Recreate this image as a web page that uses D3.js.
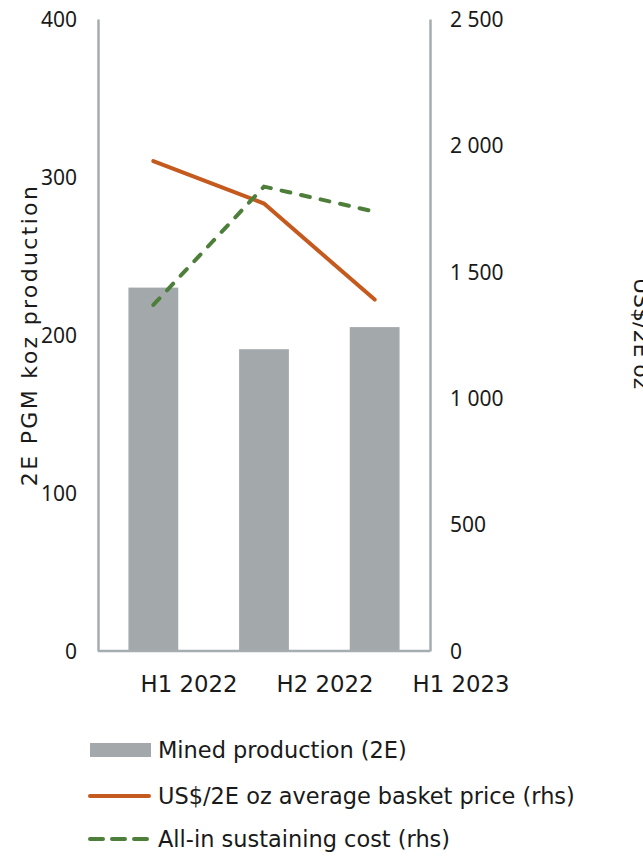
<!DOCTYPE html>
<html><head><meta charset="utf-8">
<script src="https://cdn.jsdelivr.net/npm/d3@7/dist/d3.min.js"></script>
<style>body{margin:0;background:#fff}svg{display:block}text{fill:#1a1a1a}</style>
</head><body><svg id="c" width="643" height="856"></svg>
<script>
const categories = ["H1 2022", "H2 2022", "H1 2023"];
const minedProduction = [230, 191, 205];
const basketPrice = [1938, 1770, 1390];
const aisc = [1369, 1837, 1738];
const leftTicks = [0, 100, 200, 300, 400];
const rightTicks = [0, 500, 1000, 1500, 2000, 2500];
const legendLabels = ["Mined production (2E)", "US$/2E oz average basket price (rhs)", "All-in sustaining cost (rhs)"];

const svg = d3.select("#c");
const L = 98, R = 430, T = 19, B = 651;
const x = d3.scaleBand().domain(categories).range([L, R]).paddingInner(0.55).paddingOuter(0.275);
const xLab = d3.scaleBand().domain(categories).range([121, 529]);
const yL = d3.scaleLinear().domain([0, 400]).range([B, T]);
const yR = d3.scaleLinear().domain([0, 2500]).range([B, T]);
const fmt = d => d3.format(",")(d).replace(/,/g, " ");
const gray = "#a3a9ab", axisCol = "#a6adb0", orange = "#c55a1e", green = "#4e7f3a";
const tickFont = "'Noto Sans', sans-serif", wideFont = "'DejaVu Sans', sans-serif";

function fit(sel, target, base) {
  sel.style("font-size", base + "px");
  const w = sel.node().getComputedTextLength();
  return base * target / w;
}
function spread(sel, target, size) {
  sel.style("font-size", size + "px").style("letter-spacing", "0px");
  const w = sel.node().getComputedTextLength();
  const n = sel.text().length;
  sel.style("letter-spacing", ((target - w) / (n - 1)) + "px");
}

// bars
svg.selectAll("rect.bar").data(minedProduction).join("rect").attr("class","bar")
  .attr("x", (d,i) => x(categories[i])).attr("width", x.bandwidth())
  .attr("y", d => yL(d)).attr("height", d => B - yL(d)).attr("fill", gray);

// axes
const gl = svg.append("g").attr("transform", `translate(${L},0)`).call(d3.axisLeft(yL).tickValues(leftTicks).tickSize(0).tickPadding(21));
const gr = svg.append("g").attr("transform", `translate(${R},0)`).call(d3.axisRight(yR).tickValues(rightTicks).tickFormat(fmt).tickSize(0).tickPadding(20));
[gl, gr].forEach(g => {
  g.select(".domain").attr("stroke", axisCol).attr("stroke-width", 2.5);
  g.selectAll("text").style("font-size", "21px").style("font-family", tickFont).attr("fill", "#1a1a1a").attr("dy", "0.35em");
});
svg.append("line").attr("x1", L).attr("x2", R).attr("y1", B).attr("y2", B).attr("stroke", axisCol).attr("stroke-width", 2.5);
const gx = svg.append("g").attr("transform", `translate(0,${B})`).call(d3.axisBottom(xLab).tickSize(0).tickPadding(25));
gx.select(".domain").remove();
const xt = gx.selectAll("text").style("font-family", wideFont).attr("fill", "#1a1a1a");
const xs = fit(d3.select(xt.nodes()[0]), 97, 22);
xt.style("font-size", xs + "px");

// lines
const cx = c => x(c) + x.bandwidth() / 2;
const line = d3.line().x((d,i) => cx(categories[i])).y(d => yR(d));
svg.append("path").datum(basketPrice).attr("d", line).attr("fill","none").attr("stroke", orange).attr("stroke-width", 4).attr("stroke-linecap","round");
svg.append("path").datum(aisc).attr("d", line).attr("fill","none").attr("stroke", green).attr("stroke-width", 4).attr("stroke-dasharray","9 11").attr("stroke-linecap","round");

// axis titles
const lt = svg.append("text").attr("transform", `translate(37,335) rotate(-90)`).attr("text-anchor","middle").style("font-family", wideFont).text("2E PGM koz production");
spread(lt, 300, 22);
const rt = svg.append("text").attr("transform", `translate(634,278) rotate(90)`).attr("text-anchor","start").style("font-family", wideFont).style("font-size", "22px").text("US$/2E oz");

// legend
const lg = svg.append("g");
const ly = [750, 796, 839];
lg.append("rect").attr("x", 90).attr("y", ly[0] - 7).attr("width", 61).attr("height", 14).attr("fill", gray);
lg.append("line").attr("x1", 90).attr("x2", 149).attr("y1", ly[1]).attr("y2", ly[1]).attr("stroke", orange).attr("stroke-width", 4).attr("stroke-linecap","round");
lg.append("line").attr("x1", 90).attr("x2", 150).attr("y1", ly[2]).attr("y2", ly[2]).attr("stroke", green).attr("stroke-width", 4).attr("stroke-dasharray","13 9").attr("stroke-linecap","round");
const ltx = lg.selectAll("text.lt").data(legendLabels).join("text").attr("class","lt")
  .attr("x", 158).attr("y", (d,i) => ly[i]).attr("dy","0.35em").style("font-family", wideFont).text(d => d);
const ls = fit(d3.select(ltx.nodes()[1]), 417, 21);
ltx.style("font-size", ls + "px");
</script></body></html>
